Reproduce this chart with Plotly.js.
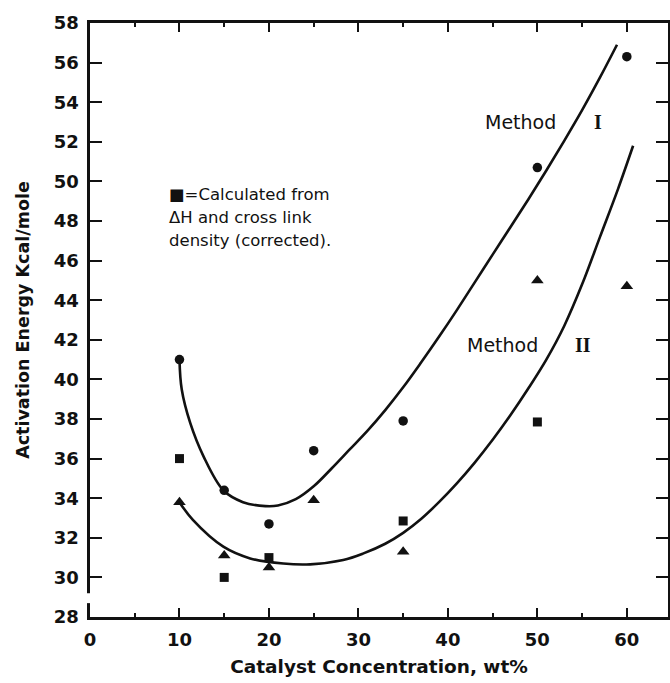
<!DOCTYPE html>
<html>
<head>
<meta charset="utf-8">
<script src="https://cdn.plot.ly/plotly-3.0.1.min.js"></script>
<style>html,body{margin:0;padding:0;background:#fff;}#chart{width:670px;height:683px;}</style>
</head>
<body>
<div id="chart"></div>
<script>
// Measured points
const method1X = [10, 15, 20, 25, 35, 50, 60];
const method1Y = [41.0, 34.4, 32.7, 36.4, 37.9, 50.7, 56.3];

const method2X = [10, 15, 20, 25, 35, 50, 60];
const method2Y = [33.8, 31.1, 30.5, 33.9, 31.3, 45.0, 44.7];

const calcX = [10, 15, 20, 35, 50];
const calcY = [36.0, 30.0, 31.0, 32.85, 37.85];

// Hand-drawn fitted curves
const curve1X = [10, 10.25, 11.2, 12.7, 14.9, 17.1, 19.6, 21, 23, 25, 27, 29, 31, 33, 35, 37, 39, 41, 43, 45, 47, 49, 51, 53, 55, 57, 58.9];
const curve1Y = [41.0, 39.5, 37.8, 36.1, 34.4, 33.8, 33.6, 33.63, 33.95, 34.6, 35.5, 36.45, 37.4, 38.45, 39.6, 40.85, 42.15, 43.5, 44.9, 46.3, 47.7, 49.1, 50.55, 52.05, 53.6, 55.25, 56.9];

const curve2X = [10, 11.5, 14.9, 17.9, 21.6, 24.6, 28.3, 30.5, 33, 35, 37, 39, 41, 43, 45, 47, 49, 51, 53, 55, 57, 59, 60.7];
const curve2Y = [33.8, 32.9, 31.55, 30.96, 30.7, 30.66, 30.88, 31.2, 31.7, 32.25, 32.95, 33.8, 34.75, 35.8, 36.95, 38.2, 39.55, 41.0, 42.7, 44.8, 47.2, 49.6, 51.8];

const yTicks = [28, 30, 32, 34, 36, 38, 40, 42, 44, 46, 48, 50, 52, 54, 56, 58];
const xTicks = [0, 10, 20, 30, 40, 50, 60];

const ink = '#111';
const tickFont = {family: 'DejaVu Sans', size: 18, color: ink, weight: 'bold'};
const textFont = {family: 'DejaVu Sans', size: 16.5, color: ink};
const labelFont = {family: 'DejaVu Sans', size: 19, color: ink};
const romanFont = {family: 'Liberation Serif', size: 20, color: ink, weight: 'bold'};

const traces = [
  {x: curve1X, y: curve1Y, mode: 'lines', line: {shape: 'spline', smoothing: 1, color: ink, width: 2.6}, hoverinfo: 'skip', name: 'Method I fit'},
  {x: curve2X, y: curve2Y, mode: 'lines', line: {shape: 'spline', smoothing: 1, color: ink, width: 2.6}, hoverinfo: 'skip', name: 'Method II fit'},
  {x: method1X, y: method1Y, mode: 'markers', marker: {symbol: 'circle', size: 9.5, color: ink}, name: 'Method I'},
  {x: method2X, y: method2Y, mode: 'markers', marker: {symbol: 'triangle-up', size: 11, color: ink}, name: 'Method II'},
  {x: calcX, y: calcY, mode: 'markers', marker: {symbol: 'square', size: 9, color: ink}, name: 'Calculated'}
];

const layout = {
  width: 670, height: 683,
  margin: {l: 90, r: 2, t: 23, b: 66},
  paper_bgcolor: '#fff', plot_bgcolor: '#fff',
  showlegend: false,
  xaxis: {
    range: [0, 64.6], tickvals: xTicks, ticktext: xTicks.map(String),
    showgrid: false, zeroline: false,
    showline: true, linecolor: ink, linewidth: 2.6, mirror: 'ticks',
    ticks: 'inside', ticklen: 9, tickwidth: 2, tickcolor: ink,
    minor: {dtick: 5, tick0: 0, ticks: 'inside', ticklen: 4, tickwidth: 2, tickcolor: ink},
    tickfont: tickFont, ticklabelstandoff: 5,
    title: {text: 'Catalyst Concentration, wt%', font: {family: 'DejaVu Sans', size: 18.5, color: ink, weight: 'bold'}, standoff: 11}
  },
  yaxis: {
    range: [28, 58], tickvals: yTicks, ticktext: yTicks.map(String),
    showgrid: false, zeroline: false,
    showline: true, linecolor: ink, linewidth: 2.6, mirror: 'ticks',
    ticks: 'inside', ticklen: 12, tickwidth: 2, tickcolor: ink,
    tickfont: tickFont, ticklabelstandoff: 5,
    title: {text: 'Activation Energy Kcal/mole', font: {family: 'DejaVu Sans', size: 17.5, color: ink, weight: 'bold'}, standoff: 20}
  },
  shapes: [
    {type: 'rect', xref: 'paper', yref: 'y', x0: -0.01, x1: 0.01, y0: 28.7, y1: 29.2, fillcolor: '#fff', line: {width: 0}, layer: 'above'}
  ],
  annotations: [
    {xref: 'x', yref: 'y', x: 8.6, y: 49.36, xanchor: 'left', yanchor: 'middle', showarrow: false, text: '■=Calculated from', font: textFont},
    {xref: 'x', yref: 'y', x: 8.6, y: 48.2, xanchor: 'left', yanchor: 'middle', showarrow: false, text: 'ΔH and cross link', font: textFont},
    {xref: 'x', yref: 'y', x: 8.6, y: 47.04, xanchor: 'left', yanchor: 'middle', showarrow: false, text: 'density (corrected).', font: textFont},
    {xref: 'x', yref: 'y', x: 52.3, y: 53.0, xanchor: 'right', yanchor: 'middle', showarrow: false, text: 'Method', font: labelFont},
    {xref: 'x', yref: 'y', x: 56.76, y: 53.0, xanchor: 'center', yanchor: 'middle', showarrow: false, text: 'I', font: romanFont},
    {xref: 'x', yref: 'y', x: 50.3, y: 41.74, xanchor: 'right', yanchor: 'middle', showarrow: false, text: 'Method', font: labelFont},
    {xref: 'x', yref: 'y', x: 55.1, y: 41.74, xanchor: 'center', yanchor: 'middle', showarrow: false, text: 'II', font: romanFont}
  ]
};

Plotly.newPlot('chart', traces, layout, {displayModeBar: false, staticPlot: true});
</script>
</body>
</html>
